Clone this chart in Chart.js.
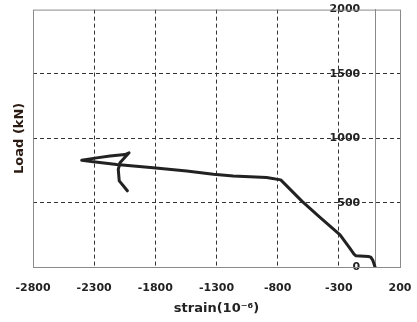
<!DOCTYPE html>
<html>
<head>
<meta charset="utf-8">
<script src="https://cdn.jsdelivr.net/npm/chart.js@4.4.0/dist/chart.umd.min.js"></script>
<style>
  html, body { margin: 0; padding: 0; background: #fff; }
  #wrap { width: 417px; height: 322px; }
</style>
</head>
<body>
<div id="wrap"><canvas id="chart"></canvas></div>
<script>
// strain (10^-6) vs load (kN)
const strain = [-4, -23, -39, -59, -127, -160, -176, -209, -290, -454, -600, -775, -890, -1163, -1326, -1544, -1817, -2116, -2307, -2402, -2280, -2171, -2048, -2015, -2089, -2103, -2095, -2062, -2029];
const load = [0, 54, 77, 82, 85, 87, 100, 144, 250, 385, 510, 677, 695, 708, 720, 746, 772, 797, 818, 830, 848, 862, 874, 887, 810, 759, 669, 631, 592];
const xTicks = [-2800, -2300, -1800, -1300, -800, -300, 200];
const yTicks = [0, 500, 1000, 1500, 2000];

const font = 'DejaVu Sans';
const textColor = '#222';

// frame around the plot and the rotated y title
const framePlugin = {
  id: 'frame',
  afterDraw(chart) {
    const { ctx, chartArea: a } = chart;
    ctx.save();
    ctx.strokeStyle = '#8a8a8a';
    ctx.lineWidth = 1;
    ctx.strokeRect(a.left + 0.5, a.top + 0.5, a.right - a.left, a.bottom - a.top);
    ctx.translate(20, (a.top + a.bottom) / 2);
    ctx.rotate(-Math.PI / 2);
    ctx.font = 'bold 13px ' + font;
    ctx.fillStyle = '#2a1a12';
    ctx.textAlign = 'center';
    ctx.textBaseline = 'middle';
    ctx.fillText('Load (kN)', 0, 0);
    ctx.restore();
  }
};

new Chart(document.getElementById('chart'), {
  type: 'line',
  data: {
    datasets: [{
      data: strain.map((s, i) => ({ x: s, y: load[i] })),
      borderColor: '#222',
      borderWidth: 3,
      borderJoinStyle: 'round',
      borderCapStyle: 'round',
      pointRadius: 0,
      tension: 0,
      fill: false
    }]
  },
  options: {
    responsive: true,
    maintainAspectRatio: false,
    animation: false,
    layout: { padding: { left: 33, right: 17, top: -7, bottom: 0 } },
    plugins: { legend: { display: false }, tooltip: { enabled: false } },
    scales: {
      x: {
        type: 'linear',
        min: -2800,
        max: 200,
        afterBuildTicks: scale => { scale.ticks = xTicks.map(v => ({ value: v })); },
        afterFit: scale => {
          scale.height = 55;
          scale.paddingLeft = 0;
          scale.paddingRight = 0;
        },
        grid: {
          drawTicks: false,
          color: ctx => (ctx.tick && (ctx.tick.value === -2800 || ctx.tick.value === 200)) ? 'rgba(0,0,0,0)' : '#333',
          lineWidth: 1
        },
        border: { display: true, color: '#8a8a8a', dash: [4, 3] },
        ticks: {
          padding: 15,
          color: textColor,
          font: { family: font, size: 11, weight: 'bold' },
          maxRotation: 0,
          callback: v => String(v)
        },
        title: {
          display: true,
          text: 'strain(10⁻⁶)',
          color: textColor,
          font: { family: font, size: 13, weight: 'bold' },
          padding: { top: 5, bottom: 6 }
        }
      },
      y: {
        type: 'linear',
        position: { x: 0 },
        min: 0,
        max: 2000,
        afterBuildTicks: scale => { scale.ticks = yTicks.map(v => ({ value: v })); },
        grid: {
          drawTicks: false,
          color: ctx => (ctx.tick && (ctx.tick.value === 0 || ctx.tick.value === 2000)) ? 'rgba(0,0,0,0)' : '#333',
          lineWidth: 1
        },
        border: { display: true, color: '#8a8a8a', dash: [4, 3] },
        ticks: {
          color: textColor,
          font: { family: font, size: 11, weight: 'bold' },
          // labels sit left of the x = 0 line; spaces keep the gap
          callback: v => String(v) + '    '
        }
      }
    }
  },
  plugins: [framePlugin]
});
</script>
</body>
</html>
